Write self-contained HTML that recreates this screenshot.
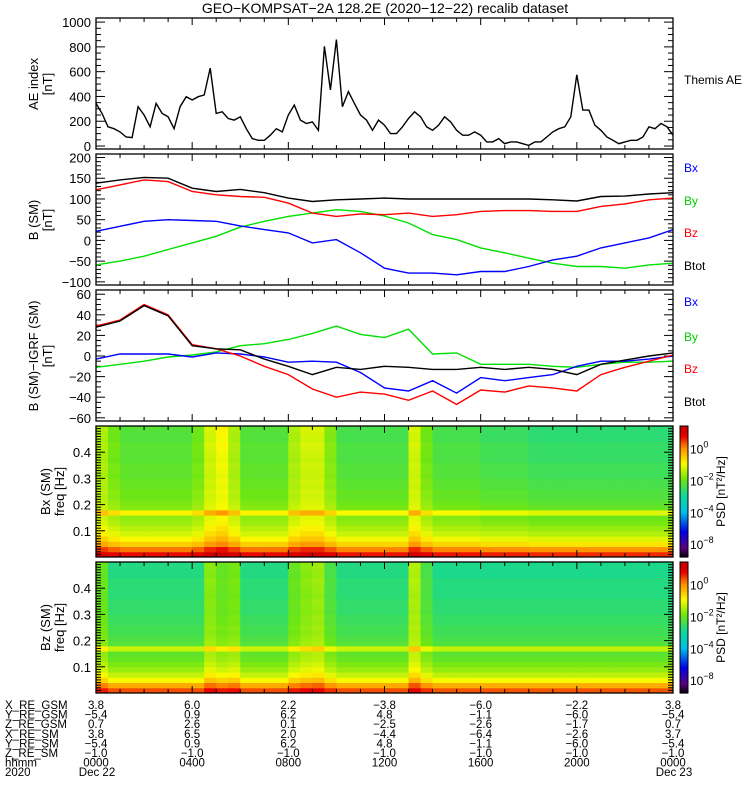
<!DOCTYPE html>
<html><head><meta charset="utf-8"><style>
html,body{margin:0;padding:0;background:#fff;}
svg{display:block;font-family:"Liberation Sans",sans-serif;}
</style></head><body>
<svg id="fig" width="750" height="800" viewBox="0 0 750 800" xmlns="http://www.w3.org/2000/svg">
<text x="385" y="13" font-size="14" text-anchor="middle">GEO−KOMPSAT−2A 128.2E (2020−12−22) recalib dataset</text>
<g id="g"></g>
</svg>
<script>
// ---- data ----
const aeTimes = [0,0.25,0.5,0.75,1,1.25,1.5,1.75,2,2.25,2.5,2.75,3,3.25,3.5,3.75,4,4.25,4.5,4.75,5,5.25,5.5,5.75,6,6.25,6.5,6.75,7,7.25,7.5,7.75,8,8.25,8.5,8.75,9,9.25,9.5,9.75,10,10.25,10.5,10.75,11,11.25,11.5,11.75,12,12.25,12.5,12.75,13,13.25,13.5,13.75,14,14.25,14.5,14.75,15,15.25,15.5,15.75,16,16.25,16.5,16.75,17,17.25,17.5,17.75,18,18.25,18.5,18.75,19,19.25,19.5,19.75,20,20.25,20.5,20.75,21,21.25,21.5,21.75,22,22.25,22.5,22.75,23,23.25,23.5,23.75,24];
const aeValues = [344,263,155,140,114,73,68,317,250,155,344,263,236,140,317,398,371,398,412,629,263,276,222,209,236,140,60,46,46,87,140,114,250,330,209,182,195,127,805,453,859,317,439,344,250,209,127,209,168,100,100,155,222,276,236,155,127,168,236,195,127,87,87,114,87,33,33,60,19,33,33,19,5,33,33,73,114,140,155,236,575,290,290,168,127,73,46,19,33,46,46,73,155,140,182,155,87];
const hourTimes = [0,1,2,3,4,5,6,7,8,9,10,11,12,13,14,15,16,17,18,19,20,21,22,23,24];
const bBx = [22,34,46,50,48,46,35,26,18,-6,2,-30,-67,-79,-79,-83,-75,-75,-63,-47,-38,-18,-6,6,26];
const bBy = [-59,-50,-38,-22,-6,10,32,46,58,66,74,70,59,42,14,2,-18,-30,-43,-55,-63,-63,-67,-59,-55];
const bBz = [122,134,146,142,118,110,106,104,90,66,58,64,62,66,58,62,70,72,72,70,70,82,88,98,102];
const bBtot = [138,146,152,150,126,118,123,115,102,94,98,100,102,100,100,100,100,100,100,98,95,106,107,112,115];
const dBx = [-3,2,2,2,-1,3,2,-1,-6,-5,-6,-16,-31,-34,-24,-36,-21,-24,-21,-18,-10,-5,-5,-3,0];
const dBy = [-11,-8,-5,-1,1,4,10,12,16,22,29,21,18,26,2,3,-8,-8,-8,-10,-11,-8,-6,-6,-5];
const dBz = [29,35,50,40,11,7,0,-10,-18,-32,-40,-35,-37,-43,-34,-47,-33,-35,-29,-31,-34,-18,-11,-5,1];
const dBtot = [28,34,49,39,10,7,6,-3,-10,-18,-11,-13,-10,-11,-13,-13,-11,-13,-11,-13,-18,-8,-4,0,3];
const freqBins = [0.01,0.03,0.05,0.07,0.09,0.11,0.13,0.15,0.17,0.19,0.21,0.23,0.25,0.27,0.29,0.31,0.33,0.35,0.37,0.39,0.41,0.43,0.45,0.47,0.49];
const psdProfile = [0.6,0.0,-0.7,-1.1,-1.4,-1.6,-1.8,-1.9,-1.1,-2.0,-2.1,-2.2,-2.2,-2.3,-2.3,-2.4,-2.4,-2.4,-2.5,-2.5,-2.5,-2.5,-2.6,-2.6,-2.6];
const bxActivity = [0.8,0.5,0.3,0.3,0.3,0.3,0.3,0.3,0.5,1.0,1.2,0.8,0.3,0.3,0.3,0.3,0.8,1.0,1.0,0.6,0.2,0.2,0.2,0.2,0.2,0.2,1.0,0.5,0.2,0.2,0.2,0.2,0.1,0.1,0.1,0.1,0,0,0,0,0,0,0,0,0,0,0,0];
const bzActivity = [0.6,0.1,0.1,0.1,0.1,0.1,0.1,0.1,0.1,0.8,0.6,0.7,0.1,0.1,0.1,0.1,0.6,0.8,0.9,0.4,0.1,0.1,0.1,0.1,0.1,0.1,1.0,0.4,0.05,0.05,0.05,0.05,0.05,0.05,0.05,0.05,0.05,0.05,0.05,0.05,0.05,0.05,0.05,0.05,0.05,0.05,0.05,0.05];
const ephemLabels = ["X_RE_GSM","Y_RE_GSM","Z_RE_GSM","X_RE_SM","Y_RE_SM","Z_RE_SM","hhmm","2020"];
const ephemRows = [
 ["3.8","6.0","2.2","−3.8","−6.0","−2.2","3.8"],
 ["−5.4","0.9","6.2","4.8","−1.1","−6.0","−5.4"],
 ["0.7","2.6","0.1","−2.5","−2.6","−1.7","0.7"],
 ["3.8","6.5","2.0","−4.4","−6.4","−2.6","3.7"],
 ["−5.4","0.9","6.2","4.8","−1.1","−6.0","−5.4"],
 ["−1.0","−1.0","−1.0","−1.0","−1.0","−1.0","−1.0"],
 ["0000","0400","0800","1200","1600","2000","0000"],
 ["Dec 22","","","","","","Dec 23"]];

// ---- drawing ----
const NS="http://www.w3.org/2000/svg";
const G=document.getElementById('g');
function mk(tag,attrs,parent){const e=document.createElementNS(NS,tag);for(const k in attrs)e.setAttribute(k,attrs[k]);(parent||G).appendChild(e);return e;}
const X0=96,X1=673;
const xS=t=>X0+t*(X1-X0)/24;

function panel(name,top,bot,vmin,vmax,major,minor,fmt){
  const y=v=>bot-(v-vmin)/(vmax-vmin)*(bot-top);
  const g=mk('g',{});
  
  
  for(let h=0;h<=24;h++){
    const L=h%4===0?7:4;
    mk('line',{x1:xS(h),x2:xS(h),y1:bot,y2:bot-L,stroke:'#000'},g);
    mk('line',{x1:xS(h),x2:xS(h),y1:top,y2:top+L,stroke:'#000'},g);
  }
  const i0=Math.ceil(vmin/minor-1e-6), i1=Math.floor(vmax/minor+1e-6);
  for(let i=i0;i<=i1;i++){
    const v=i*minor, yy=y(v);
    const isMaj=Math.abs(v/major-Math.round(v/major))<1e-6;
    const L=isMaj?9:5;
    mk('line',{x1:X0,x2:X0+L,y1:yy,y2:yy,stroke:'#000'},g);
    mk('line',{x1:X1,x2:X1-L,y1:yy,y2:yy,stroke:'#000'},g);
    if(isMaj&&fmt){
      const s=fmt(v); if(s===null) continue;
      const t=mk('text',{x:91,y:yy+5,'font-size':13,'text-anchor':'end'},g);
      t.textContent=s;
      
      
    }
  }
  return {y,g,top,bot};
}
function frame(p){mk('rect',{x:X0,y:p.top,width:X1-X0,height:p.bot-p.top,fill:'none',stroke:'#000','stroke-width':1.3},p.g);}
function line(p,ts,vs,color,name){
  const d=ts.map((t,i)=>(i?'L':'M')+xS(t).toFixed(1)+','+p.y(vs[i]).toFixed(1)).join('');
  const e=mk('path',{d,fill:'none',stroke:color,'stroke-width':1.4},p.g);
  
  
}
function ytitle(x,y,lines,name){
  const t=mk('text',{transform:`translate(${x},${y}) rotate(-90)`,'font-size':13,'text-anchor':'middle'});
  lines.forEach((s,i)=>{const ts=mk('tspan',{x:0,dy:i?14:0},t);ts.textContent=s;});
  
  
}
function legend(x,y,txt,color,name){
  const t=mk('text',{x,y,'font-size':12,fill:color});t.textContent=txt;
  
  
}
const numFmt=v=>String(Math.round(v)).replace('-','−');

// Panel 1 AE
const p1=panel('ae-panel',18,149,-24,1033,200,50,v=>v>=0?numFmt(v):null);
line(p1,aeTimes,aeValues,'#000','ae-line');frame(p1);
ytitle(38,84,['AE index','[nT]'],'ae-y-title');
legend(684,84,'Themis AE','#000','legend-themis-ae');

// Panel 2
const p2=panel('b-sm-panel',154,285,-107.6,208.5,50,10,numFmt);
line(p2,hourTimes,bBy,'#00e000','by-line');
line(p2,hourTimes,bBx,'#0000ff','bx-line');
line(p2,hourTimes,bBz,'#ff0000','bz-line');
line(p2,hourTimes,bBtot,'#000','btot-line');frame(p2);
ytitle(38,220,['B (SM)','[nT]'],'b-sm-y-title');
legend(684,172,'Bx','#0000ff','legend-bx');legend(684,205,'By','#00d000','legend-by');
legend(684,237,'Bz','#ff0000','legend-bz');legend(684,270,'Btot','#000','legend-btot');

// Panel 3
const p3=panel('b-minus-igrf-panel',290,421,-63.1,64.1,20,5,numFmt);
line(p3,hourTimes,dBy,'#00e000','dby-line');
line(p3,hourTimes,dBx,'#0000ff','dbx-line');
line(p3,hourTimes,dBz,'#ff0000','dbz-line');
line(p3,hourTimes,dBtot,'#000','dbtot-line');frame(p3);
ytitle(38,356,['B (SM)−IGRF (SM)','[nT]'],'b-igrf-y-title');
legend(684,306,'Bx','#0000ff','legend-dbx');legend(684,341,'By','#00d000','legend-dby');
legend(684,373,'Bz','#ff0000','legend-dbz');legend(684,406,'Btot','#000','legend-dbtot');

// colormap
const stops=[[0,[0,0,0]],[0.08,[90,0,130]],[0.2,[0,0,230]],[0.35,[0,190,230]],[0.48,[20,215,150]],[0.6,[110,230,20]],[0.72,[250,250,0]],[0.84,[255,140,0]],[0.93,[230,0,0]],[1,[200,0,0]]];
function cmap(s){s=Math.max(0,Math.min(1,s));for(let i=1;i<stops.length;i++){if(s<=stops[i][0]){const a=stops[i-1],b=stops[i],f=(s-a[0])/(b[0]-a[0]);return 'rgb('+a[1].map((c,k)=>Math.round(c+(b[1][k]-c)*f)).join(',')+')';}}return 'rgb(200,0,0)';}
const LMIN=-6.8,LMAX=1.4;

function spectro(name,top,bot,activity,offset,ylab){
  const p=panel(name,top,bot,0,0.5,0.1,0.01,v=>v>0.001&&v<0.45?v.toFixed(1):null);
  const cg=mk('g',{});p.g.insertBefore(cg,p.g.firstChild);
  const nt=activity.length, dt=24/nt, df=0.02;
  activity.forEach((a,i)=>{
    freqBins.forEach((f,j)=>{
      const lv=psdProfile[j]+offset+a*(0.6+0.9*j/freqBins.length);
      mk('rect',{x:xS(i*dt),y:p.y(f+df/2),width:xS(dt)-X0+0.5,height:p.y(0)-p.y(df)+0.5,fill:cmap((lv-LMIN)/(LMAX-LMIN))},cg);
    });
  });
  frame(p);
  ytitle(50,(top+bot)/2,[ylab,'freq [Hz]'],name+'-y-title');
  const cb=mk('g',{});
  
  
  const N=60;for(let k=0;k<N;k++){mk('rect',{x:680,y:top+(bot-top)*k/N,width:8,height:(bot-top)/N+0.6,fill:cmap(1-k/N)},cb);}
  mk('rect',{x:680,y:top,width:8,height:bot-top,fill:'none',stroke:'#000'},cb);
  const labs=[[0,'0'],[-2,'−2'],[-4,'−4'],[-6,'−8']];
  labs.forEach(([lv,s])=>{const yy=bot-(lv-LMIN)/(LMAX-LMIN)*(bot-top);
    const t=mk('text',{x:690,y:yy+5,'font-size':12},cb);t.textContent='10';
    const sp=mk('tspan',{dy:-6,'font-size':9},t);sp.textContent=s;});
  const pt=mk('text',{transform:`translate(725,${(top+bot)/2}) rotate(-90)`,'font-size':12,'text-anchor':'middle'},cb);
  pt.textContent='PSD [nT²/Hz]';
}
spectro('bx-spectrogram',426,557,bxActivity,0,'Bx (SM)');
spectro('bz-spectrogram',562,693,bzActivity,-0.25,'Bz (SM)');

// ephemeris table
const eg=mk('g',{'font-size':11.5});


ephemLabels.forEach((lab,r)=>{
  const yy=709+r*9.6;
  const t=mk('text',{x:5,y:yy},eg);t.textContent=lab;
  ephemRows[r].forEach((s,c)=>{if(!s)return;const tt=mk('text',{x:xS(c*4)+(r===7?1:0),y:yy,'text-anchor':'middle'},eg);tt.textContent=s;});
});
</script>
</body></html>
